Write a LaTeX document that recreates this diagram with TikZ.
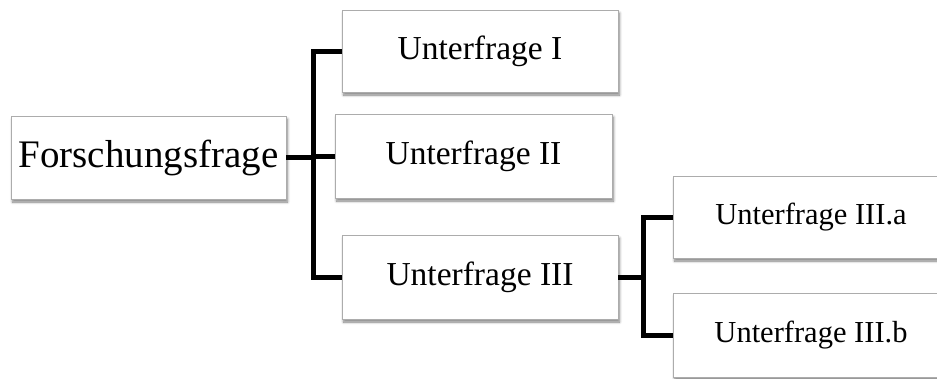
\documentclass[tikz,border=0pt]{standalone}
\usepackage{fontspec}
\setmainfont{Liberation Serif}
\usetikzlibrary{shadows.blur}
\begin{document}
\begin{tikzpicture}[x=1pt,y=-1pt,
  qbox/.style={draw=gray!65, line width=0.8pt, fill=white, inner sep=0pt,
    minimum width=276pt, minimum height=83pt,
    blur shadow={shadow xshift=1.5pt, shadow yshift=-3pt, shadow blur steps=6, shadow blur radius=2.5pt, shadow opacity=50}},
  link/.style={line width=5pt, black}]
  \useasboundingbox (0,0) rectangle (937,378);
  \clip (0,0) rectangle (937,378);
  % question tree
  \node[qbox, minimum width=275pt] (root) at (148.5,157.5) {\fontsize{39}{44}\selectfont Forschungsfrage};
  \node[qbox, minimum height=82pt] (u1) at (480,51) {\fontsize{33.5}{38}\selectfont Unterfrage I};
  \node[qbox, minimum width=277pt, minimum height=84pt] (u2) at (473.5,156) {\fontsize{33.5}{38}\selectfont Unterfrage II};
  \node[qbox, minimum height=84pt] (u3) at (480,277) {\fontsize{33.5}{38}\selectfont Unterfrage III};
  \node[qbox, minimum height=82pt] (ua) at (811,217) {\fontsize{30.5}{35}\selectfont Unterfrage III.a};
  \node[qbox, minimum height=84pt] (ub) at (811,335) {\fontsize{30.5}{35}\selectfont Unterfrage III.b};
  % brackets
  \coordinate (j1) at (313,157.5);
  \coordinate (j2) at (643,277);
  \draw[link] (root.east) -- (j1);
  \draw[link] (u1.west) -| (j1) |- (u3.west);
  \draw[link] (j1 |- u2.west) -- (u2.west);
  \draw[link] (u3.east) -- (j2);
  \draw[link] (ua.west) -| (j2) |- (ub.west);
\end{tikzpicture}
\end{document}
